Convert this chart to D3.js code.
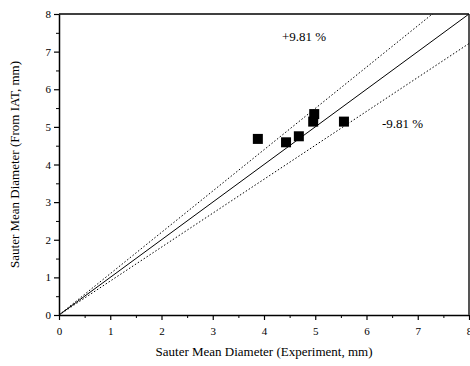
<!DOCTYPE html>
<html>
<head>
<meta charset="utf-8">
<script src="https://cdn.jsdelivr.net/npm/d3@7"></script>
<style>
body { margin: 0; background: #fff; }
text { font-family: "Liberation Serif", "Times New Roman", serif; fill: #000; }
</style>
</head>
<body>
<div id="chart"></div>
<script>
// measured vs predicted diameters (mm)
const expValues = [3.88, 4.43, 4.68, 4.98, 4.96, 5.56];
const iatValues = [4.68, 4.59, 4.75, 5.34, 5.14, 5.14];
const bandPct = 9.81;
const xTicks = [0, 1, 2, 3, 4, 5, 6, 7, 8];
const yTicks = [0, 1, 2, 3, 4, 5, 6, 7, 8];

const W = 470, H = 366;
const margin = {top: 14, right: 1, bottom: 51, left: 59};
const width = W - margin.left - margin.right;
const height = H - margin.top - margin.bottom;

const svg = d3.select("#chart").append("svg")
    .attr("width", W)
    .attr("height", H);

const g = svg.append("g")
    .attr("transform", "translate(" + margin.left + "," + margin.top + ")");

const x = d3.scaleLinear().domain([0, 8]).range([0, width]);
const y = d3.scaleLinear().domain([0, 8]).range([height, 0]);

g.append("defs").append("clipPath").attr("id", "clip")
    .append("rect").attr("width", width).attr("height", height);

// minor ticks
const minor = d3.range(0.5, 8, 1);
g.append("g").attr("transform", "translate(0," + height + ")")
    .call(d3.axisBottom(x).tickValues(minor).tickSize(3).tickFormat(""))
    .call(a => a.select(".domain").remove());
g.append("g")
    .call(d3.axisLeft(y).tickValues(minor).tickSize(3).tickFormat(""))
    .call(a => a.select(".domain").remove());

const xAxis = g.append("g").attr("transform", "translate(0," + height + ")")
    .call(d3.axisBottom(x).tickValues(xTicks).tickSize(5).tickSizeOuter(0).tickFormat(d3.format("d")));
const yAxis = g.append("g")
    .call(d3.axisLeft(y).tickValues(yTicks).tickSize(5).tickSizeOuter(0).tickFormat(d3.format("d")));
[xAxis, yAxis].forEach(a => {
    a.selectAll("text").style("font-family", "Liberation Serif").style("font-size", "11px");
    a.select(".domain").attr("stroke-width", 1.5);
    a.selectAll(".tick line").attr("stroke-width", 1.2);
});
xAxis.selectAll("text").attr("dy", "1.1em");

// top and right frame
g.append("line").attr("x1", 0).attr("x2", width).attr("y1", 0).attr("y2", 0)
    .attr("stroke", "#000").attr("stroke-width", 1.5);
g.append("line").attr("x1", width).attr("x2", width).attr("y1", 0).attr("y2", height)
    .attr("stroke", "#555").attr("stroke-width", 2);

// parity line and +/- band
const lines = [
    {k: 1, dash: null},
    {k: 1 + bandPct / 100, dash: "1.5,2"},
    {k: 1 - bandPct / 100, dash: "1.5,2"}
];
const line = d3.line().x(d => x(d[0])).y(d => y(d[1]));
g.append("g").attr("clip-path", "url(#clip)")
    .selectAll("path").data(lines).join("path")
    .attr("d", d => line([[0, 0], [8, 8 * d.k]]))
    .attr("fill", "none")
    .attr("stroke", "#000")
    .attr("stroke-width", 1)
    .attr("stroke-dasharray", d => d.dash);

// data squares
const pts = expValues.map((v, i) => [v, iatValues[i]]);
const s = 10;
g.selectAll(".pt").data(pts).join("rect")
    .attr("class", "pt")
    .attr("x", d => x(d[0]) - s / 2)
    .attr("y", d => y(d[1]) - s / 2)
    .attr("width", s).attr("height", s)
    .attr("fill", "#000");

// band labels
g.append("text").attr("x", x(4.35)).attr("y", y(7.28))
    .style("font-size", "13px").text("+" + bandPct + " %");
g.append("text").attr("x", x(6.3)).attr("y", y(4.98))
    .style("font-size", "13px").text("-" + bandPct + " %");

// axis titles
svg.append("text")
    .attr("x", margin.left + width / 2).attr("y", 356)
    .attr("text-anchor", "middle")
    .style("font-size", "13px")
    .text("Sauter Mean Diameter (Experiment, mm)");
svg.append("text")
    .attr("transform", "translate(19," + (margin.top + height / 2) + ") rotate(-90)")
    .attr("text-anchor", "middle")
    .style("font-size", "13px")
    .text("Sauter Mean Diameter (From IAT, mm)");
</script>
</body>
</html>
